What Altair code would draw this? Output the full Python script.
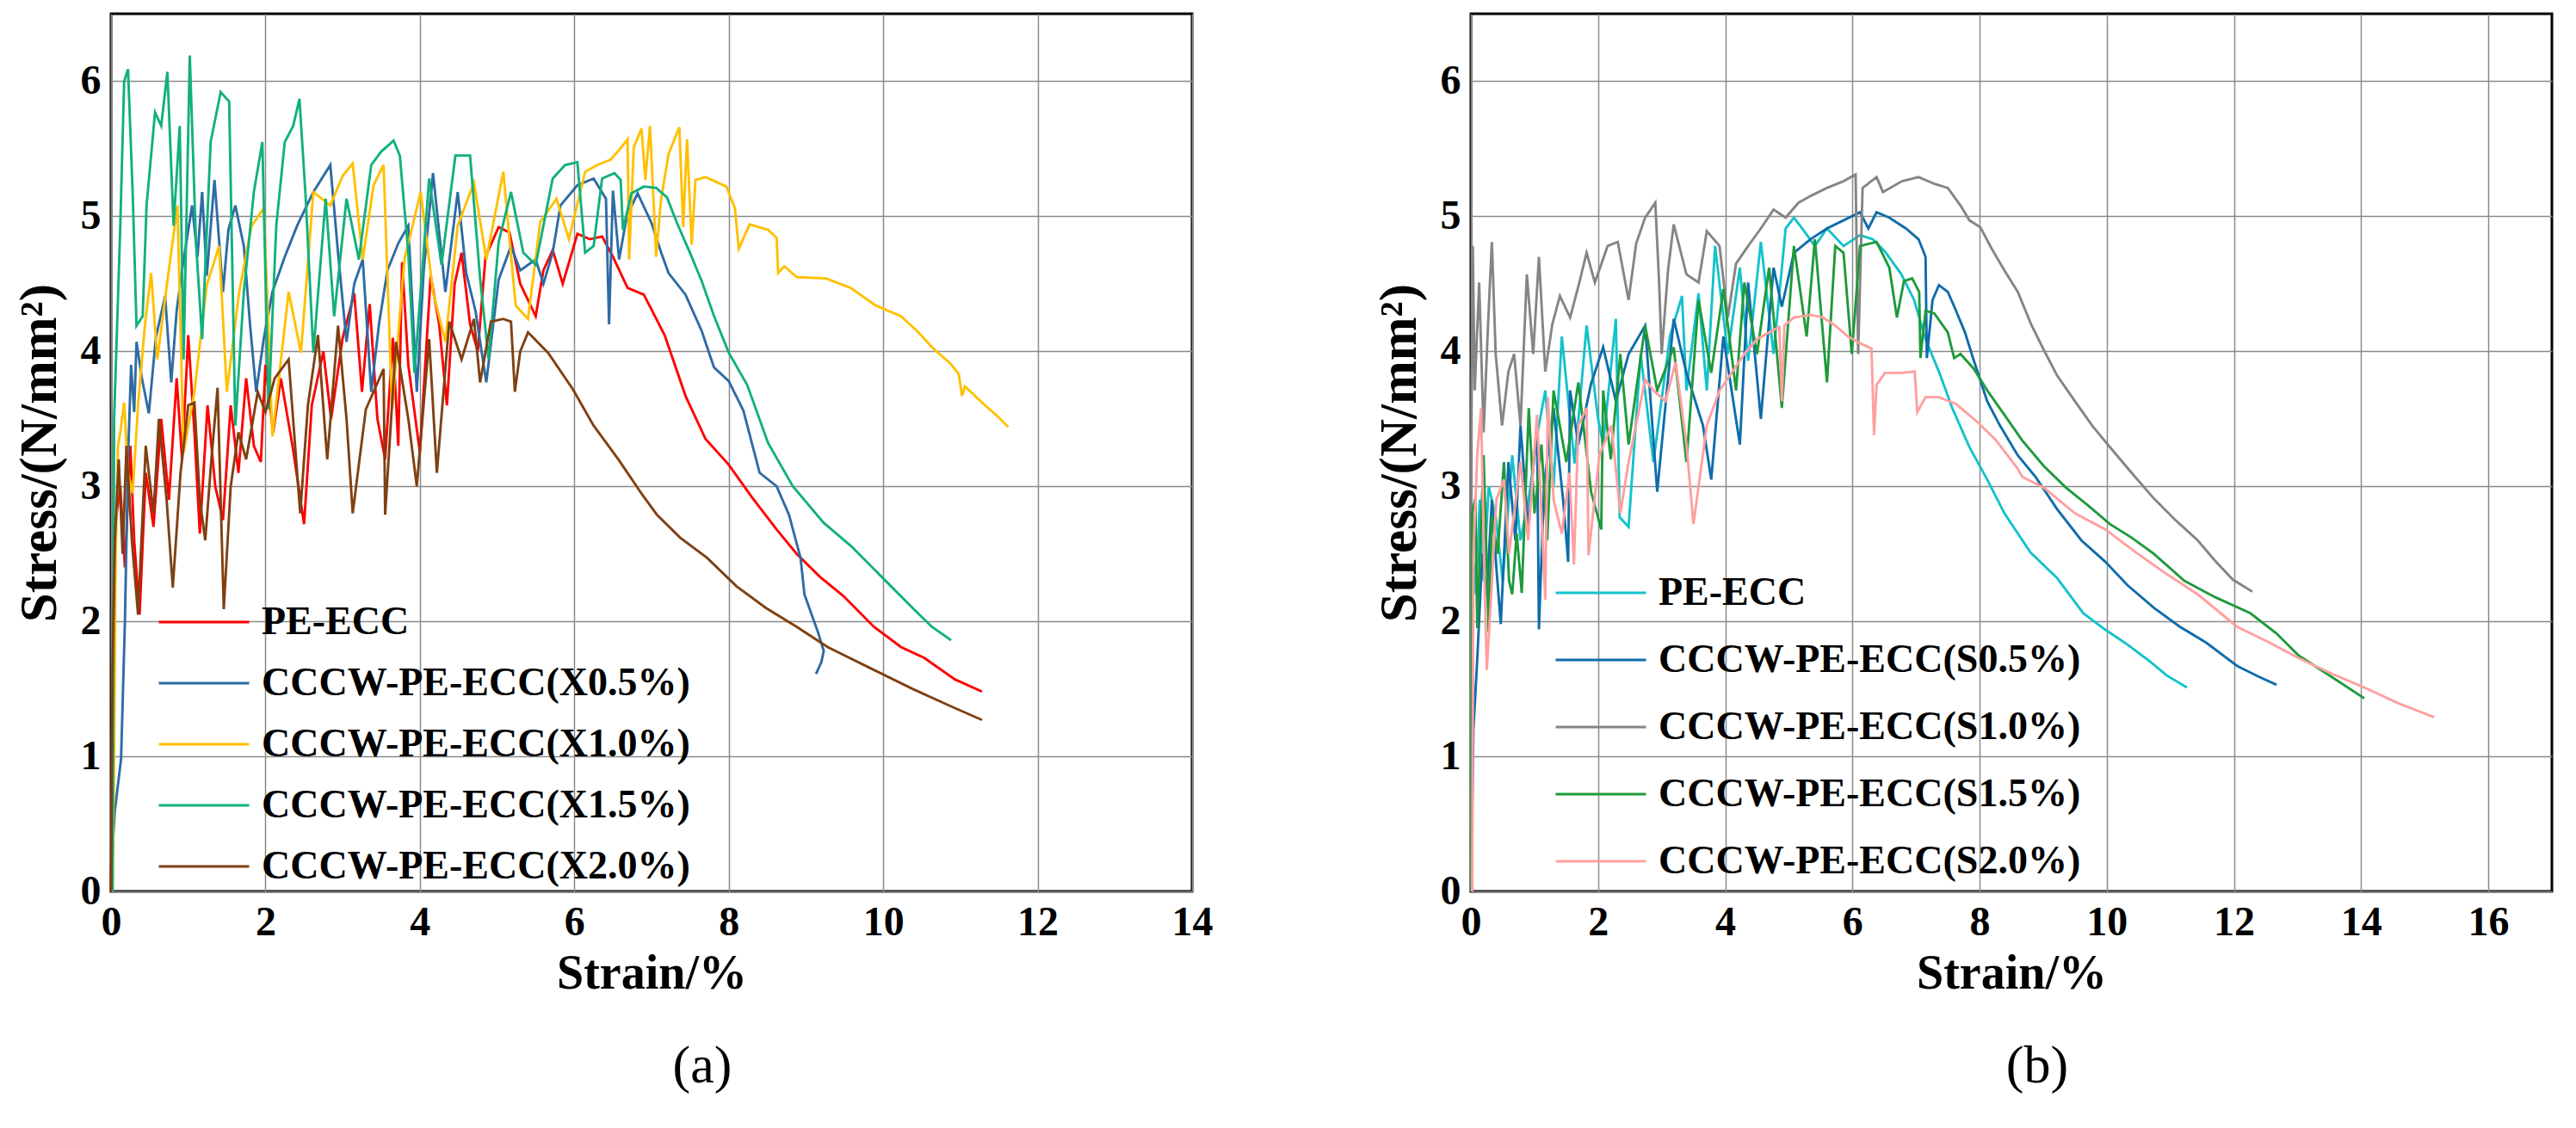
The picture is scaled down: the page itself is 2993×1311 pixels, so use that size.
import altair as alt
import pandas as pd

FONT = "Liberation Serif"

# axis ticks
strain_ticks_a = [0, 2, 4, 6, 8, 10, 12, 14]
strain_ticks_b = [0, 2, 4, 6, 8, 10, 12, 14, 16]
stress_ticks = [0, 1, 2, 3, 4, 5, 6]

# series names / colours
names_a = ["PE-ECC", "CCCW-PE-ECC(X0.5%)", "CCCW-PE-ECC(X1.0%)",
           "CCCW-PE-ECC(X1.5%)", "CCCW-PE-ECC(X2.0%)"]
colors_a = ["#FF0000", "#2E6BA5", "#FFC000", "#12B07D", "#7F4012"]
names_b = ["PE-ECC", "CCCW-PE-ECC(S0.5%)", "CCCW-PE-ECC(S1.0%)",
           "CCCW-PE-ECC(S1.5%)", "CCCW-PE-ECC(S2.0%)"]
colors_b = ["#13C2CB", "#0F6CAB", "#858585", "#1E9A3B", "#FF9F9F"]

# (strain %, stress N/mm2)
a_pe = [(0, 0), (0.03, 1.6), (0.05, 2.7), (0.12, 3.0), (0.18, 2.4), (0.25, 3.3), (0.3, 2.6),
        (0.37, 2.05), (0.45, 3.1), (0.55, 2.7), (0.65, 3.5), (0.75, 2.9), (0.85, 3.8), (0.92, 3.2),
        (1.0, 4.12), (1.08, 3.4), (1.15, 2.65), (1.25, 3.6), (1.35, 3.0), (1.45, 2.75), (1.55, 3.6),
        (1.65, 3.1), (1.75, 3.8), (1.85, 3.3), (1.94, 3.18), (2.0, 3.9), (2.1, 3.4), (2.2, 3.8),
        (2.35, 3.3), (2.5, 2.72), (2.6, 3.6), (2.75, 4.0), (2.85, 3.5), (3.0, 4.1), (3.15, 4.43),
        (3.25, 3.7), (3.35, 4.35), (3.45, 3.5), (3.55, 3.2), (3.65, 4.1), (3.72, 3.3), (3.77, 4.66),
        (3.85, 3.9), (4.0, 3.25), (4.14, 4.56), (4.25, 4.2), (4.35, 3.6), (4.45, 4.5), (4.54, 4.73),
        (4.65, 4.2), (4.75, 4.0), (4.85, 4.7), (5.02, 4.92), (5.16, 4.88), (5.3, 4.5), (5.5, 4.26),
        (5.6, 4.6), (5.72, 4.75), (5.85, 4.5), (6.04, 4.87), (6.2, 4.83), (6.36, 4.85), (6.5, 4.7),
        (6.69, 4.47), (6.9, 4.42), (7.17, 4.12), (7.44, 3.67), (7.7, 3.35), (8.0, 3.16), (8.3, 2.92),
        (8.62, 2.68), (8.88, 2.5), (9.18, 2.33), (9.48, 2.19), (9.88, 1.96), (10.23, 1.81),
        (10.53, 1.73), (10.93, 1.57), (11.28, 1.48)]

a_x05 = [(0, 0.15), (0.05, 0.6), (0.13, 0.98), (0.18, 2.0), (0.22, 3.2), (0.26, 3.9), (0.3, 3.55),
         (0.33, 4.07), (0.4, 3.8), (0.49, 3.54), (0.58, 4.1), (0.7, 4.41), (0.78, 3.77), (0.85, 4.3),
         (0.92, 4.6), (1.05, 5.08), (1.12, 4.7), (1.18, 5.18), (1.24, 4.56), (1.34, 5.27),
         (1.45, 4.44), (1.52, 4.9), (1.61, 5.08), (1.72, 4.78), (1.8, 4.2), (1.88, 3.7), (1.98, 4.1),
         (2.09, 4.44), (2.25, 4.7), (2.41, 4.93), (2.62, 5.18), (2.84, 5.38), (2.94, 4.73),
         (3.05, 4.07), (3.15, 4.5), (3.26, 4.68), (3.37, 3.7), (3.47, 4.2), (3.58, 4.6), (3.72, 4.8),
         (3.85, 4.93), (3.96, 3.7), (4.05, 4.6), (4.17, 5.32), (4.33, 4.44), (4.49, 5.18), (4.6, 4.58),
         (4.72, 4.3), (4.86, 3.77), (5.02, 4.53), (5.18, 4.78), (5.3, 4.6), (5.5, 4.68), (5.6, 4.5),
         (5.72, 4.73), (5.82, 5.08), (6.04, 5.23), (6.25, 5.28), (6.41, 5.13), (6.45, 4.2), (6.5, 5.19),
         (6.58, 4.68), (6.68, 5.0), (6.82, 5.17), (7.0, 4.95), (7.12, 4.74), (7.22, 4.58), (7.44, 4.42),
         (7.65, 4.15), (7.81, 3.88), (8.0, 3.78), (8.19, 3.56), (8.4, 3.1), (8.62, 3.0), (8.78, 2.79),
         (8.93, 2.47), (8.98, 2.2), (9.08, 2.04), (9.15, 1.93), (9.23, 1.78), (9.2, 1.7), (9.13, 1.61)]

a_x10 = [(0.02, 0), (0.04, 1.0), (0.06, 2.5), (0.09, 3.3), (0.12, 3.4), (0.17, 3.62), (0.22, 3.1),
         (0.28, 2.95), (0.35, 3.6), (0.44, 4.2), (0.52, 4.58), (0.6, 3.94), (0.7, 4.39), (0.86, 5.08),
         (0.94, 3.25), (1.08, 3.7), (1.24, 4.49), (1.4, 4.78), (1.5, 3.7), (1.66, 4.44), (1.82, 4.93),
         (1.98, 5.06), (2.09, 3.37), (2.3, 4.44), (2.46, 3.99), (2.62, 5.18), (2.84, 5.08), (3.0, 5.3),
         (3.13, 5.39), (3.26, 4.68), (3.4, 5.23), (3.53, 5.38), (3.64, 3.57), (3.8, 4.68), (4.01, 5.18),
         (4.17, 4.44), (4.33, 4.07), (4.49, 4.93), (4.7, 5.25), (4.86, 4.68), (5.08, 5.33),
         (5.24, 4.34), (5.4, 4.24), (5.56, 4.96), (5.77, 5.13), (5.93, 4.83), (6.14, 5.33), (6.3, 5.38),
         (6.47, 5.42), (6.58, 5.49), (6.69, 5.57), (6.71, 4.68), (6.77, 5.51), (6.87, 5.65),
         (6.92, 5.27), (6.98, 5.67), (7.06, 4.7), (7.12, 5.11), (7.22, 5.46), (7.36, 5.66),
         (7.41, 4.92), (7.46, 5.57), (7.52, 4.79), (7.57, 5.27), (7.7, 5.29), (7.97, 5.22),
         (8.08, 5.06), (8.13, 4.76), (8.27, 4.94), (8.51, 4.9), (8.62, 4.84), (8.64, 4.58),
         (8.72, 4.63), (8.88, 4.55), (9.26, 4.54), (9.58, 4.47), (9.9, 4.34), (10.23, 4.26),
         (10.44, 4.15), (10.65, 4.02), (10.87, 3.91), (10.98, 3.83), (11.02, 3.67), (11.06, 3.74),
         (11.3, 3.61), (11.46, 3.53), (11.62, 3.44)]

a_x15 = [(0.02, 0), (0.04, 3.5), (0.12, 4.93), (0.17, 6.0), (0.22, 6.09), (0.28, 5.18), (0.33, 4.19),
         (0.41, 4.26), (0.46, 5.08), (0.57, 5.77), (0.65, 5.67), (0.73, 6.07), (0.81, 4.93),
         (0.89, 5.67), (0.94, 3.94), (1.02, 6.19), (1.1, 4.81), (1.18, 4.09), (1.29, 5.55),
         (1.42, 5.92), (1.53, 5.85), (1.61, 3.45), (1.72, 4.44), (1.85, 5.18), (1.96, 5.55),
         (2.04, 3.57), (2.14, 4.93), (2.25, 5.55), (2.36, 5.67), (2.44, 5.87), (2.52, 5.15),
         (2.62, 3.99), (2.78, 5.13), (2.89, 4.26), (3.05, 5.13), (3.21, 4.68), (3.37, 5.38),
         (3.5, 5.48), (3.66, 5.56), (3.74, 5.45), (3.85, 4.73), (3.93, 3.84), (4.12, 5.28),
         (4.28, 4.64), (4.46, 5.45), (4.65, 5.45), (4.78, 4.54), (4.89, 3.94), (5.02, 4.81),
         (5.18, 5.18), (5.34, 4.73), (5.5, 4.64), (5.72, 5.28), (5.88, 5.38), (6.04, 5.4), (6.14, 4.73),
         (6.25, 4.78), (6.36, 5.28), (6.52, 5.32), (6.6, 5.27), (6.63, 4.9), (6.74, 5.17), (6.9, 5.22),
         (7.06, 5.21), (7.2, 5.14), (7.33, 4.95), (7.49, 4.74), (7.65, 4.52), (7.81, 4.26), (8.0, 3.99),
         (8.24, 3.75), (8.51, 3.32), (8.83, 3.0), (9.23, 2.73), (9.58, 2.56), (9.98, 2.33),
         (10.38, 2.1), (10.63, 1.96), (10.88, 1.86)]

a_x20 = [(0, 0), (0.02, 1.65), (0.05, 2.6), (0.1, 3.2), (0.15, 2.5), (0.2, 3.3), (0.27, 2.6),
         (0.35, 2.05), (0.45, 3.3), (0.55, 2.8), (0.62, 3.5), (0.72, 2.9), (0.8, 2.25), (0.9, 3.1),
         (1.0, 3.6), (1.08, 3.62), (1.15, 2.9), (1.22, 2.6), (1.3, 3.2), (1.38, 3.73), (1.46, 2.09),
         (1.55, 3.0), (1.65, 3.4), (1.75, 3.2), (1.9, 3.7), (2.0, 3.55), (2.12, 3.8), (2.3, 3.94),
         (2.45, 2.8), (2.55, 3.6), (2.68, 4.12), (2.8, 3.2), (2.94, 4.19), (3.05, 3.5), (3.13, 2.8),
         (3.3, 3.57), (3.53, 3.87), (3.55, 2.79), (3.69, 4.07), (3.85, 3.5), (3.96, 3.0), (4.12, 4.09),
         (4.22, 3.1), (4.38, 4.22), (4.54, 3.94), (4.7, 4.24), (4.78, 3.77), (4.92, 4.22), (5.08, 4.24),
         (5.18, 4.22), (5.23, 3.7), (5.3, 4.0), (5.4, 4.14), (5.66, 3.99), (5.98, 3.72), (6.25, 3.45),
         (6.57, 3.2), (6.89, 2.93), (7.07, 2.79), (7.37, 2.62), (7.72, 2.47), (8.1, 2.26), (8.48, 2.1),
         (8.88, 1.96), (9.28, 1.81), (9.88, 1.64), (10.38, 1.5), (10.88, 1.37), (11.28, 1.27)]

# panel (b)
b_pe = [(0.02, 0), (0.03, 2.5), (0.08, 2.2), (0.14, 2.9), (0.2, 2.3), (0.28, 3.0), (0.39, 2.78),
        (0.5, 2.3), (0.65, 3.23), (0.78, 2.6), (0.91, 2.91), (1.05, 3.4), (1.17, 3.71), (1.3, 3.0),
        (1.43, 4.11), (1.63, 3.17), (1.82, 4.19), (2.0, 3.5), (2.08, 3.31), (2.28, 4.24), (2.34, 2.77),
        (2.48, 2.7), (2.67, 3.98), (2.87, 3.18), (3.13, 4.11), (3.32, 4.41), (3.39, 3.71), (3.58, 4.43),
        (3.71, 3.71), (3.84, 4.78), (4.04, 3.98), (4.23, 4.62), (4.36, 3.93), (4.56, 4.81),
        (4.76, 3.98), (4.95, 4.91), (5.08, 4.99), (5.21, 4.91), (5.41, 4.78), (5.6, 4.91), (5.86, 4.78),
        (6.12, 4.86), (6.32, 4.83), (6.51, 4.74), (6.77, 4.57), (6.97, 4.38), (7.15, 4.09),
        (7.36, 3.85), (7.57, 3.58), (7.84, 3.29), (8.12, 3.05), (8.39, 2.8), (8.8, 2.51), (9.22, 2.32),
        (9.63, 2.06), (9.97, 1.94), (10.32, 1.83), (10.66, 1.71), (10.94, 1.6), (11.26, 1.51)]

b_s05 = [(0, 0), (0.04, 1.2), (0.1, 1.72), (0.18, 2.5), (0.25, 2.2), (0.33, 2.9), (0.4, 2.4),
         (0.47, 1.98), (0.59, 3.18), (0.7, 2.6), (0.78, 3.45), (0.9, 2.7), (1.04, 3.45), (1.07, 1.94),
         (1.15, 3.0), (1.3, 3.58), (1.45, 2.9), (1.53, 2.44), (1.56, 3.71), (1.69, 3.31), (1.89, 3.76),
         (2.08, 4.03), (2.28, 3.63), (2.48, 3.98), (2.74, 4.19), (2.93, 2.96), (3.19, 4.24),
         (3.39, 3.84), (3.65, 3.45), (3.78, 3.05), (3.97, 4.11), (4.23, 3.31), (4.36, 4.51),
         (4.56, 3.5), (4.76, 4.62), (4.89, 4.33), (5.08, 4.73), (5.34, 4.83), (5.6, 4.91), (5.86, 4.97),
         (6.12, 5.03), (6.25, 4.91), (6.38, 5.03), (6.58, 4.99), (6.84, 4.91), (7.04, 4.83),
         (7.15, 4.7), (7.17, 3.95), (7.26, 4.38), (7.36, 4.49), (7.5, 4.44), (7.63, 4.3), (7.77, 4.14),
         (7.91, 3.93), (8.12, 3.63), (8.32, 3.45), (8.6, 3.23), (8.88, 3.07), (9.22, 2.83), (9.6, 2.6),
         (9.98, 2.44), (10.32, 2.27), (10.74, 2.1), (11.15, 1.96), (11.57, 1.84), (12.05, 1.67),
         (12.39, 1.59), (12.67, 1.53)]

b_s10 = [(0, 0), (0.01, 3.5), (0.03, 4.78), (0.06, 3.71), (0.13, 4.51), (0.2, 3.4), (0.27, 4.2),
         (0.33, 4.81), (0.39, 3.98), (0.49, 3.45), (0.59, 3.85), (0.68, 3.98), (0.78, 3.45),
         (0.88, 4.57), (0.98, 3.98), (1.07, 4.7), (1.17, 3.85), (1.28, 4.2), (1.4, 4.41), (1.56, 4.25),
         (1.7, 4.5), (1.82, 4.73), (1.95, 4.51), (2.15, 4.78), (2.31, 4.81), (2.48, 4.38), (2.6, 4.8),
         (2.74, 4.99), (2.9, 5.1), (2.96, 4.51), (3.0, 3.98), (3.1, 4.6), (3.19, 4.94), (3.39, 4.57),
         (3.58, 4.51), (3.71, 4.89), (3.91, 4.78), (4.04, 4.25), (4.17, 4.65), (4.36, 4.78),
         (4.56, 4.91), (4.76, 5.05), (4.95, 4.99), (5.15, 5.1), (5.34, 5.15), (5.6, 5.21), (5.86, 5.26),
         (6.05, 5.31), (6.09, 3.98), (6.16, 5.21), (6.38, 5.29), (6.48, 5.18), (6.78, 5.26),
         (7.04, 5.29), (7.29, 5.24), (7.5, 5.21), (7.7, 5.08), (7.84, 4.97), (8.01, 4.92), (8.19, 4.76),
         (8.39, 4.6), (8.6, 4.44), (8.81, 4.2), (9.01, 4.01), (9.22, 3.82), (9.5, 3.63), (9.77, 3.45),
         (10.05, 3.29), (10.39, 3.1), (10.74, 2.91), (11.08, 2.75), (11.43, 2.6), (11.7, 2.45),
         (11.98, 2.31), (12.29, 2.22)]

b_s15 = [(0.01, 0), (0.02, 2.8), (0.07, 2.91), (0.1, 1.95), (0.15, 2.6), (0.2, 3.23), (0.28, 1.92),
         (0.33, 2.78), (0.42, 2.5), (0.52, 3.18), (0.6, 2.3), (0.65, 2.2), (0.72, 2.65), (0.8, 2.21),
         (0.91, 3.58), (1.0, 2.8), (1.11, 3.31), (1.2, 2.6), (1.3, 3.71), (1.5, 3.18), (1.69, 3.77),
         (1.89, 2.96), (2.05, 2.68), (2.08, 3.71), (2.2, 3.2), (2.35, 3.98), (2.48, 3.31), (2.74, 4.19),
         (2.93, 3.71), (3.19, 4.03), (3.39, 3.18), (3.58, 4.38), (3.78, 3.84), (3.97, 4.46),
         (4.17, 3.71), (4.3, 4.51), (4.5, 3.98), (4.69, 4.62), (4.89, 3.58), (5.08, 4.78), (5.28, 4.11),
         (5.41, 4.83), (5.6, 3.77), (5.73, 4.78), (5.86, 4.73), (5.99, 3.98), (6.12, 4.78), (6.38, 4.81),
         (6.58, 4.62), (6.7, 4.25), (6.81, 4.52), (6.94, 4.54), (7.05, 4.44), (7.07, 3.95), (7.15, 4.3),
         (7.29, 4.28), (7.5, 4.14), (7.6, 3.95), (7.7, 3.98), (7.91, 3.87), (8.12, 3.71), (8.39, 3.53),
         (8.67, 3.34), (9.01, 3.15), (9.36, 2.99), (9.7, 2.86), (10.05, 2.72), (10.39, 2.62),
         (10.74, 2.5), (11.22, 2.3), (11.7, 2.18), (12.26, 2.06), (12.67, 1.91), (13.01, 1.75),
         (13.5, 1.6), (14.05, 1.43)]

b_s20 = [(0.02, 0), (0.04, 2.5), (0.1, 3.23), (0.16, 3.58), (0.21, 2.4), (0.25, 1.64), (0.32, 2.2),
         (0.4, 2.9), (0.52, 3.05), (0.6, 2.5), (0.78, 3.18), (0.9, 2.6), (1.04, 3.53), (1.17, 2.16),
         (1.21, 3.66), (1.3, 2.9), (1.43, 2.65), (1.55, 3.1), (1.62, 2.42), (1.69, 3.45), (1.82, 3.58),
         (1.85, 2.49), (2.02, 3.23), (2.21, 3.45), (2.35, 2.8), (2.48, 3.18), (2.74, 3.79), (2.87, 3.71),
         (3.06, 3.63), (3.22, 3.92), (3.39, 3.31), (3.5, 2.72), (3.71, 3.45), (3.91, 3.71), (4.1, 3.84),
         (4.3, 3.98), (4.5, 4.09), (4.69, 4.14), (4.85, 4.18), (4.89, 3.63), (4.93, 4.19), (5.08, 4.25),
         (5.34, 4.27), (5.54, 4.25), (5.73, 4.19), (5.93, 4.11), (6.12, 4.06), (6.3, 4.02), (6.34, 3.38),
         (6.38, 3.75), (6.51, 3.84), (6.77, 3.84), (6.98, 3.85), (7.02, 3.55), (7.15, 3.66),
         (7.36, 3.66), (7.63, 3.61), (7.98, 3.47), (8.26, 3.34), (8.6, 3.13), (8.67, 3.07), (9.01, 2.99),
         (9.5, 2.8), (9.98, 2.68), (10.46, 2.51), (10.88, 2.37), (11.43, 2.2), (12.05, 1.96),
         (12.53, 1.85), (13.01, 1.73), (13.5, 1.62), (14.05, 1.51), (14.6, 1.39), (15.15, 1.29)]


def to_frame(names, series):
    rows = []
    for name, pts in zip(names, series):
        for i, (x, y) in enumerate(pts):
            rows.append({"series": name, "strain": x, "stress": y, "i": i})
    return pd.DataFrame(rows)


def panel(df, names, colors, xmax, xticks, caption, cap_dx, leg_x, leg_y, row_pad):
    axis_style = dict(
        grid=True, gridColor="#8a8a8a", gridWidth=1.5, ticks=False, domain=False,
        labelFont=FONT, labelFontSize=48, labelFontWeight="bold", labelColor="black",
        labelFlush=False, labelOverlap=False,
        titleFont=FONT, titleFontWeight="bold", titleColor="black",
    )
    return (
        alt.Chart(df)
        .mark_line(strokeWidth=2.9)
        .encode(
            x=alt.X("strain:Q", scale=alt.Scale(domain=[0, xmax], nice=False),
                    axis=alt.Axis(values=xticks, title="Strain/%", labelPadding=12,
                                  titlePadding=8, titleFontSize=56, **axis_style)),
            y=alt.Y("stress:Q", scale=alt.Scale(domain=[0, 6.5], nice=False),
                    axis=alt.Axis(values=stress_ticks, title="Stress/(N/mm²)", labelPadding=12,
                                  titlePadding=16, titleFontSize=61, **axis_style)),
            color=alt.Color(
                "series:N",
                scale=alt.Scale(domain=names, range=colors),
                legend=alt.Legend(
                    title=None, orient="none", legendX=leg_x, legendY=leg_y, padding=0,
                    symbolType="stroke", symbolSize=11025, symbolStrokeWidth=3,
                    clipHeight=50, rowPadding=row_pad, labelOffset=13, labelLimit=1000,
                    labelFont=FONT, labelFontSize=46, labelFontWeight="bold", labelColor="black",
                ),
            ),
            order="i:Q",
        )
        .properties(
            width=1256, height=1020,
            title=alt.TitleParams(caption, orient="bottom", font=FONT, fontSize=62,
                                  fontWeight="normal", color="black", offset=50, dx=cap_dx),
        )
    )


left = panel(to_frame(names_a, [a_pe, a_x05, a_x10, a_x15, a_x20]), names_a, colors_a,
             14, strain_ticks_a, "(a)", 59, 54, 682, 21)
right = panel(to_frame(names_b, [b_pe, b_s05, b_s10, b_s15, b_s20]), names_b, colors_b,
              17, strain_ticks_b, "(b)", 30, 97, 648, 28)

chart = (
    alt.hconcat(left, right, spacing=182)
    .resolve_scale(color="independent")
    .properties(padding={"left": 5, "top": 6, "right": 6, "bottom": 0})
    .configure_view(stroke="black", strokeWidth=3)
)

chart.save("out.html", embed_options={"renderer": "svg", "actions": False})
